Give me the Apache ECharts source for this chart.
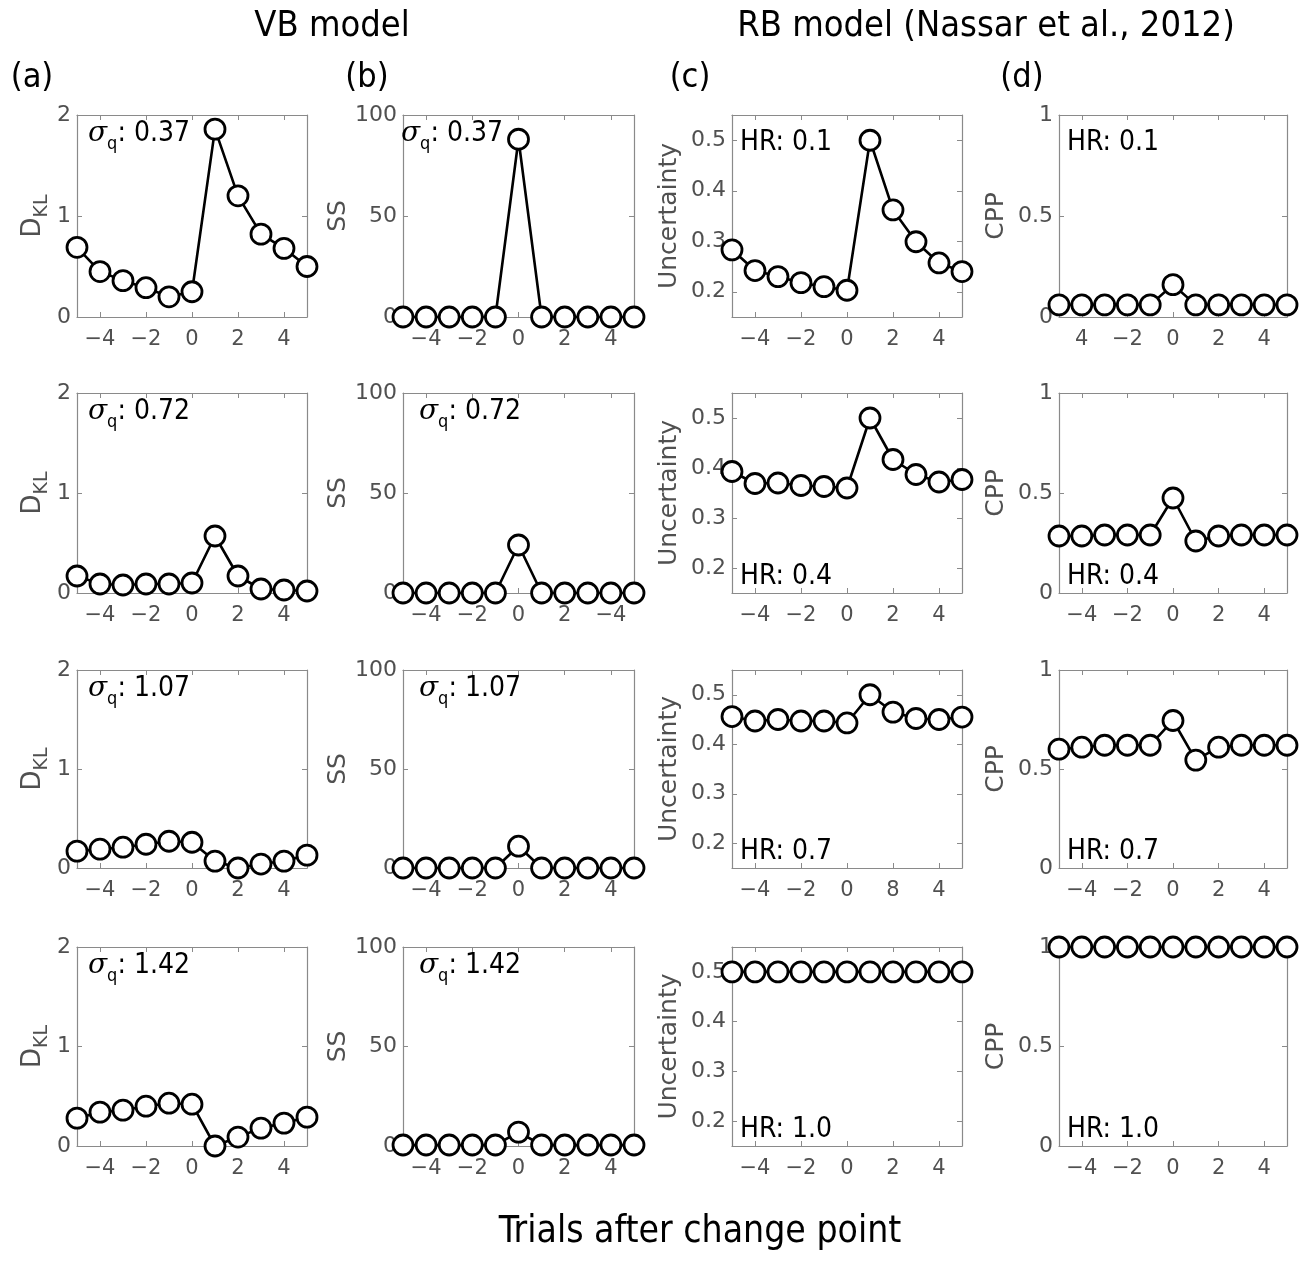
<!DOCTYPE html>
<html><head><meta charset="utf-8">
<script src="https://cdn.jsdelivr.net/npm/echarts@6/dist/echarts.min.js"></script>
<style>html,body{margin:0;padding:0;background:#fff}#c{width:1308px;height:1262px}</style>
</head><body><div id="c"></div>
<script>
// ---------------- data ----------------
const trials = [-5, -4, -3, -2, -1, 0, 1, 2, 3, 4, 5];
const xTickValues = [-4, -2, 0, 2, 4];

const dklRows = [
  [0.69, 0.45, 0.36, 0.29, 0.20, 0.25, 1.86, 1.20, 0.82, 0.68, 0.50],
  [0.17, 0.09, 0.08, 0.09, 0.09, 0.10, 0.57, 0.17, 0.04, 0.03, 0.02],
  [0.17, 0.19, 0.21, 0.24, 0.27, 0.26, 0.07, 0.00, 0.04, 0.07, 0.13],
  [0.28, 0.34, 0.36, 0.40, 0.43, 0.42, 0.00, 0.09, 0.18, 0.23, 0.29]
];
const ssRows = [
  [0, 0, 0, 0, 0, 88, 0, 0, 0, 0, 0],
  [0, 0, 0, 0, 0, 24, 0, 0, 0, 0, 0],
  [0, 0, 0, 0, 0, 11, 0, 0, 0, 0, 0],
  [0.5, 0.5, 0.5, 0.5, 0.5, 7, 0.5, 0.5, 0.5, 0.5, 0.5]
];
const uncertaintyRows = [
  [0.283, 0.242, 0.230, 0.218, 0.210, 0.203, 0.500, 0.362, 0.299, 0.257, 0.240],
  [0.393, 0.369, 0.370, 0.365, 0.363, 0.360, 0.500, 0.417, 0.387, 0.372, 0.377],
  [0.456, 0.447, 0.450, 0.447, 0.447, 0.443, 0.500, 0.465, 0.452, 0.450, 0.455],
  [0.5, 0.5, 0.5, 0.5, 0.5, 0.5, 0.5, 0.5, 0.5, 0.5, 0.5]
];
const cppRows = [
  [0.06, 0.06, 0.06, 0.06, 0.06, 0.16, 0.06, 0.06, 0.06, 0.06, 0.06],
  [0.285, 0.285, 0.29, 0.29, 0.29, 0.475, 0.26, 0.285, 0.29, 0.29, 0.29],
  [0.60, 0.61, 0.62, 0.62, 0.62, 0.745, 0.545, 0.61, 0.62, 0.62, 0.62],
  [1, 1, 1, 1, 1, 1, 1, 1, 1, 1, 1]
];

const sigmaLabels = ['0.37', '0.72', '1.07', '1.42'];
const hrLabels = ['0.1', '0.4', '0.7', '1.0'];

const stdX = ['\u22124', '\u22122', '0', '2', '4'];
const xTickLabelsA = [stdX, stdX, stdX, stdX];
const xTickLabelsB = [stdX, ['\u22124', '\u22122', '0', '2', '\u22124'], stdX, stdX];
const xTickLabelsC = [stdX, stdX, ['\u22124', '\u22122', '0', '8', '4'], stdX];
const xTickLabelsD = [['4', '\u22122', '0', '2', '4'], stdX, stdX, stdX];

const yTicksA = [0, 1, 2];
const yTicksB = [0, 50, 100];
const yTicksC = [0.2, 0.3, 0.4, 0.5];
const yTicksD = [0, 0.5, 1];

// ---------------- layout ----------------
const colLeft = [77, 403, 732, 1059];
const colWidth = [230, 231, 230, 228];
const rowTop = [115, 393, 670, 947];
const rowHeight = [202, 200, 198, 199];

const AXIS_COLOR = '#8a8a8a';
const LABEL_COLOR = '#505050';
const SANS = 'DejaVu Sans';
const COND = 'DejaVu Sans Condensed';

const panels = [
  { rows: dklRows, ymin: 0, ymax: 2, yticks: yTicksA, name: '{d|D}{k|KL}', gap: 25, xlabels: xTickLabelsA },
  { rows: ssRows, ymin: 0, ymax: 100, yticks: yTicksB, name: 'SS', gap: 51, xlabels: xTickLabelsB },
  { rows: uncertaintyRows, ymin: 0.15, ymax: 0.55, yticks: yTicksC, name: 'Uncertainty', gap: 50, xlabels: xTickLabelsC },
  { rows: cppRows, ymin: 0, ymax: 1, yticks: yTicksD, name: 'CPP', gap: 50, xlabels: xTickLabelsD }
];

const grid = [], xAxis = [], yAxis = [], series = [], graphic = [];

const richSigma = {
  s: { fontFamily: 'DejaVu Serif', fontStyle: 'italic', fontSize: 28, fill: '#000', lineHeight: 38 },
  q: { fontFamily: COND, fontSize: 18, fill: '#000', lineHeight: 18, verticalAlign: 'bottom' },
  t: { fontFamily: COND, fontSize: 28, fill: '#000', lineHeight: 38 }
};

for (let r = 0; r < 4; r++) {
  for (let c = 0; c < 4; c++) {
    const p = panels[c];
    const gi = grid.length;
    grid.push({ left: colLeft[c], top: rowTop[r], width: colWidth[c], height: rowHeight[r], containLabel: false });
    const xl = p.xlabels[r];
    xAxis.push({
      type: 'value', gridIndex: gi, min: -5, max: 5, position: 'bottom',
      axisLine: { show: true, onZero: false, lineStyle: { color: AXIS_COLOR, width: 1.2 } },
      axisTick: { show: true, inside: true, length: 5, customValues: xTickValues, lineStyle: { color: AXIS_COLOR } },
      axisLabel: { show: true, customValues: xTickValues, margin: 12, color: LABEL_COLOR, fontFamily: SANS, fontSize: 21,
        formatter: (v) => xl[xTickValues.indexOf(Math.round(v))] },
      splitLine: { show: false }
    });
    xAxis.push({
      type: 'value', gridIndex: gi, min: -5, max: 5, position: 'top',
      axisLine: { show: true, onZero: false, lineStyle: { color: AXIS_COLOR, width: 1.2 } },
      axisTick: { show: true, inside: true, length: 5, customValues: xTickValues, lineStyle: { color: AXIS_COLOR } },
      axisLabel: { show: false }, splitLine: { show: false }
    });
    yAxis.push({
      type: 'value', gridIndex: gi, min: p.ymin, max: p.ymax, position: 'left',
      name: p.name, nameLocation: 'middle', nameGap: p.gap,
      nameTextStyle: { color: LABEL_COLOR, fontFamily: SANS, fontSize: 25,
        rich: {
          d: { color: LABEL_COLOR, fontFamily: SANS, fontSize: 26, lineHeight: 38 },
          k: { color: LABEL_COLOR, fontFamily: SANS, fontSize: 19, lineHeight: 19, verticalAlign: 'bottom' }
        } },
      axisLine: { show: true, onZero: false, lineStyle: { color: AXIS_COLOR, width: 1.2 } },
      axisTick: { show: true, inside: true, length: 5, customValues: p.yticks, lineStyle: { color: AXIS_COLOR } },
      axisLabel: { show: true, customValues: p.yticks, margin: 6, color: LABEL_COLOR, fontFamily: SANS, fontSize: 22,
        formatter: (v) => String(+(+v).toFixed(2)) },
      splitLine: { show: false }
    });
    yAxis.push({
      type: 'value', gridIndex: gi, min: p.ymin, max: p.ymax, position: 'right',
      axisLine: { show: true, onZero: false, lineStyle: { color: AXIS_COLOR, width: 1.2 } },
      axisTick: { show: true, inside: true, length: 5, customValues: p.yticks, lineStyle: { color: AXIS_COLOR } },
      axisLabel: { show: false }, splitLine: { show: false }
    });
    series.push({
      type: 'line', xAxisIndex: gi * 2, yAxisIndex: gi * 2, clip: false, z: 5,
      data: trials.map((t, i) => [t, p.rows[r][i]]),
      symbol: 'circle', symbolSize: 20, showSymbol: true,
      lineStyle: { color: '#000', width: 2.6 },
      itemStyle: { color: '#fff', borderColor: '#000', borderWidth: 2.8 },
      emphasis: { disabled: true }, animation: false
    });

    const top = rowTop[r], bottom = rowTop[r] + rowHeight[r];
    if (c === 0 || c === 1) {
      const x = (c === 0) ? colLeft[c] + 11 : (r === 0 ? colLeft[c] - 2 : colLeft[c] + 16);
      graphic.push({ type: 'text', x: x, y: top + 19, z: 10,
        style: { text: '{s|\u03c3}{q|q}{t|: ' + sigmaLabels[r] + '}', rich: richSigma, align: 'left', verticalAlign: 'middle' } });
    } else {
      const y = (r === 0) ? top + 28 : bottom - 16;
      graphic.push({ type: 'text', x: colLeft[c] + 8, y: y, z: 10,
        style: { text: 'HR: ' + hrLabels[r], fill: '#000', fontFamily: COND, fontSize: 28, align: 'left', verticalAlign: 'middle' } });
    }
  }
}

const HEAD = { fill: '#000', fontFamily: COND, align: 'center', verticalAlign: 'middle' };
graphic.push({ type: 'text', x: 332, y: 27, style: Object.assign({ text: 'VB model', fontSize: 36 }, HEAD) });
graphic.push({ type: 'text', x: 986, y: 27, style: Object.assign({ text: 'RB model (Nassar et al., 2012)', fontSize: 36 }, HEAD) });
const panelLetters = ['(a)', '(b)', '(c)', '(d)'];
const letterX = [32, 367, 690, 1022];
panelLetters.forEach((t, i) => graphic.push({ type: 'text', x: letterX[i], y: 78, style: Object.assign({ text: t, fontSize: 34 }, HEAD) }));
graphic.push({ type: 'text', x: 700, y: 1232, style: Object.assign({ text: 'Trials after change point', fontSize: 37 }, HEAD) });

const chart = echarts.init(document.getElementById('c'));
chart.setOption({
  animation: false,
  backgroundColor: '#fff',
  grid, xAxis, yAxis, series, graphic
});
</script>
</body></html>
